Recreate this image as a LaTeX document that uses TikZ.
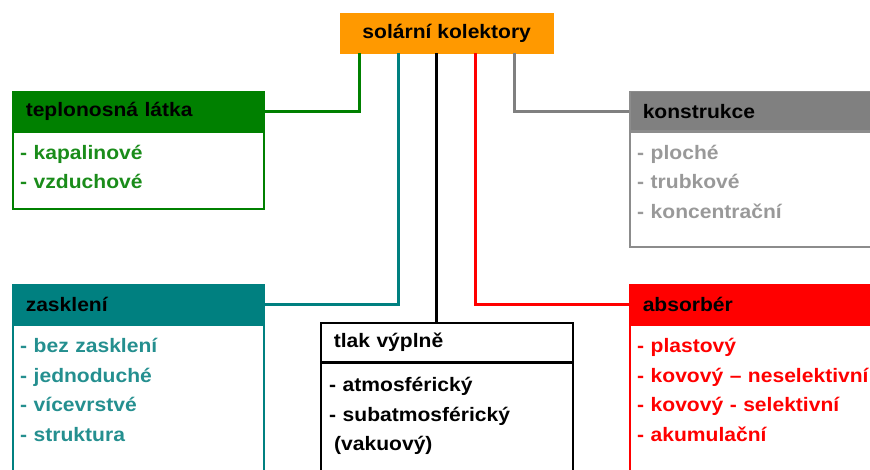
\documentclass[tikz,border=0pt]{standalone}
\usepackage{fontspec}
\setmainfont{Liberation Sans}[FakeStretch=1.08]
\definecolor{cOr}{HTML}{FF9900}
\definecolor{cGr}{HTML}{008000}
\definecolor{cGrT}{HTML}{1A8C1A}
\definecolor{cTe}{HTML}{008080}
\definecolor{cTeT}{HTML}{248F8F}
\definecolor{cGy}{HTML}{808080}
\definecolor{cGyB}{HTML}{8C8C8C}
\definecolor{cGyT}{HTML}{999999}
\definecolor{cRe}{HTML}{FF0000}
\newcommand{\hfont}{\fontsize{19.5}{22}\selectfont\bfseries}
\newcommand{\lfont}{\fontsize{19.5}{29.5}\selectfont\bfseries}
\begin{document}
\begin{tikzpicture}[x=1pt,y=-1pt,
  hdr/.style={draw=#1, fill=#1, line width=1.5pt, anchor=north west,
    minimum height=39pt, inner xsep=13pt, inner ysep=0pt, align=left, font=\hfont, text=black},
  body/.style={draw=#1, line width=1.5pt, anchor=north west, inner sep=0pt},
  lst/.style={text=#1, anchor=base west, inner sep=0pt, align=left, font=\lfont},
  conn/.style={draw=#1, line width=3pt}]
\useasboundingbox (0,0) rectangle (870,470);
\clip (0,0) rectangle (870,470);

% root
\node[draw=cOr, fill=cOr, anchor=north west, minimum width=213pt, minimum height=40pt,
  inner sep=0pt, font=\hfont] (root) at (340,13) {solární kolektory};

% teplonosna latka
\node[hdr=cGr, text width=225pt] (tepH) at (12,91) {teplonosná látka};
\node[body=cGr, minimum width=251pt, minimum height=77pt] (tepB) at (tepH.south west) {};
\node[lst=cGrT, text width=230pt] (tepL) at ([shift={(8,28)}]tepB.north west) {- kapalinové\\- vzduchové};

% konstrukce
\node[hdr=cGy, draw=cGyB, text width=234pt] (konH) at (629,91) {konstrukce};
\node[body=cGyB, minimum width=260pt, minimum height=115pt] (konB) at (konH.south west) {};
\node[lst=cGyT, text width=230pt] (konL) at ([shift={(8,28)}]konB.north west) {- ploché\\- trubkové\\- koncentrační};

% zaskleni
\node[hdr=cTe, text width=225pt] (zasH) at (12,284) {zasklení};
\node[body=cTe, minimum width=251pt, minimum height=170pt] (zasB) at (zasH.south west) {};
\node[lst=cTeT, text width=230pt] (zasL) at ([shift={(8,28)}]zasB.north west) {- bez zasklení\\- jednoduché\\- vícevrstvé\\- struktura};

% tlak vyplne
\node[hdr=black, fill=white, text width=226pt] (tlaH) at (320,322) {tlak výplně};
\node[body=black, minimum width=252pt, minimum height=150pt] (tlaB) at (tlaH.south west) {};
\node[lst=black, text width=230pt] (tlaL) at ([shift={(9,29)}]tlaB.north west) {- atmosférický\\- subatmosférický\\\hspace*{5pt}(vakuový)};

% absorber
\node[hdr=cRe, text width=234pt] (absH) at (629,284) {absorbér};
\node[body=cRe, minimum width=260pt, minimum height=170pt] (absB) at (absH.south west) {};
\node[lst=cRe, text width=240pt] (absL) at ([shift={(8,28)}]absB.north west) {- plastový\\- kovový – neselektivní\\- kovový - selektivní\\- akumulační};

% connector start points on the root box
\path (root.south west) ++(19,0) coordinate (pG);
\path (root.south west) ++(58,0) coordinate (pT);
\path (root.south west) ++(96,0) coordinate (pK);
\path (root.south west) ++(135,0) coordinate (pR);
\path (root.south west) ++(174,0) coordinate (pY);

\draw[conn=cGr] (pG) |- (tepH.east);
\draw[conn=cTe] (pT) |- (zasH.east);
\draw[conn=black] (pK) -- (pK |- tlaH.north);
\draw[conn=cRe] (pR) |- (absH.west);
\draw[conn=cGy] (pY) |- (konH.west);
\end{tikzpicture}
\end{document}
